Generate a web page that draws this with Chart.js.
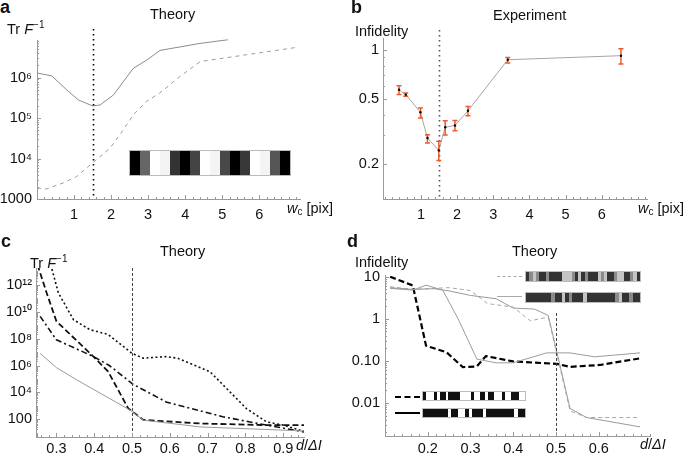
<!DOCTYPE html>
<html>
<head>
<meta charset="utf-8">
<script src="https://cdn.jsdelivr.net/npm/chart.js@4.4.1/dist/chart.umd.min.js"></script>
<style>
  body { margin: 0; width: 685px; height: 455px; position: relative; overflow: hidden; background: #fff;
         font-family: "Liberation Sans", Arial, sans-serif; color: #111; }
  canvas { position: absolute; }
  .t { position: absolute; font-size: 14.5px; line-height: 1; white-space: nowrap; }
  .lt { position: absolute; font-size: 18px; font-weight: bold; line-height: 1; }
  .t sup { font-size: 10px; vertical-align: 6px; line-height: 0; }
  .t sub { font-size: 10px; vertical-align: -2px; line-height: 0; }
  .bar { position: absolute; display: flex; box-sizing: border-box; border: 1px solid #bbb; }
  .bar div { flex: 1; }
  .leg { position: absolute; width: 25px; height: 0; }
</style>
</head>
<body>
<canvas id="ca" width="340" height="205" style="left:0;top:20px"></canvas>
<canvas id="cb" width="345" height="205" style="left:340px;top:20px"></canvas>
<canvas id="cc" width="340" height="205" style="left:0;top:250px"></canvas>
<canvas id="cd" width="345" height="205" style="left:340px;top:250px"></canvas>

<div class="lt" style="left:0;top:-2px">a</div>
<div class="t" style="left:150px;top:7px">Theory</div>
<div class="t" style="left:7px;top:22px">Tr <i>F</i><sup>−1</sup></div>
<div class="t" style="left:287px;top:201px"><i>w</i><sub>c</sub> [pix]</div>

<div class="lt" style="left:351px;top:-2px">b</div>
<div class="t" style="left:493px;top:8px">Experiment</div>
<div class="t" style="left:355px;top:24px">Infidelity</div>
<div class="t" style="left:638px;top:201px"><i>w</i><sub>c</sub> [pix]</div>

<div class="lt" style="left:1px;top:232px">c</div>
<div class="t" style="left:160px;top:244px">Theory</div>
<div class="t" style="left:30px;top:256px">Tr <i>F</i><sup>−1</sup></div>
<div class="t" style="left:296px;top:438px"><i>d</i>/<i>ΔI</i></div>

<div class="lt" style="left:347px;top:232px">d</div>
<div class="t" style="left:512px;top:244px">Theory</div>
<div class="t" style="left:355px;top:255px">Infidelity</div>
<div class="t" style="left:640px;top:437px"><i>d</i>/<i>ΔI</i></div>

<div id="deco"></div>

<script>
// ---- panel a : Tr F^-1 vs w_c (theory)
const aSolidX = [0.0, 0.4, 0.8, 1.12, 1.5, 1.7, 2.06, 2.6, 2.96, 3.32, 4.4, 5.15];
const aSolidY = [1.3e6, 1.1e6, 5e5, 2.8e5, 2.0e5, 2.1e5, 3.7e5, 1.7e6, 2.7e6, 4.7e6, 7.0e6, 8.6e6];
const aDashX = [0.0, 0.26, 0.71, 1.07, 1.5, 1.97, 2.24, 2.6, 2.96, 3.32, 3.86, 4.41, 5.31, 7.02];
const aDashY = [1860, 1770, 2500, 3600, 7800, 1.8e4, 3.9e4, 1.2e5, 2.6e5, 4.2e5, 1.07e6, 2.5e6, 3.3e6, 5.6e6];
const aTicksX = [1, 2, 3, 4, 5, 6];
const aTicksY = [1000, 1e4, 1e5, 1e6];
const aLabelsY = {1000: '1000', 10000: '10⁴', 100000: '10⁵', 1000000: '10⁶'};

// ---- panel b : measured infidelity vs w_c
const bWc = [0.393, 0.579, 0.986, 1.18, 1.493, 1.67, 1.94, 2.30, 3.40, 6.53];
const bInf = [0.568, 0.530, 0.413, 0.287, 0.241, 0.334, 0.343, 0.422, 0.868, 0.919];
const bLo = [0.532, 0.518, 0.381, 0.268, 0.209, 0.300, 0.318, 0.394, 0.829, 0.817];
const bHi = [0.601, 0.542, 0.439, 0.301, 0.274, 0.367, 0.368, 0.449, 0.897, 1.014];
const bTicksY = [0.2, 0.5, 1];

// ---- panel c : Tr F^-1 vs d/ΔI (theory)
const cSolidX = [0.257, 0.30, 0.354, 0.495, 0.53, 0.68, 0.955];
const cSolidY = [7.9e6, 7e5, 8.5e4, 490, 89, 28, 14];
const cDashX = [0.25, 0.274, 0.30, 0.398, 0.437, 0.49, 0.53, 0.68, 0.856, 0.955];
const cDashY = [3e13, 2.5e11, 1.9e9, 4.6e6, 3.5e5, 660, 93, 50, 38, 38];
const cDashDotX = [0.257, 0.30, 0.398, 0.44, 0.503, 0.59, 0.74, 0.856, 0.955];
const cDashDotY = [4.4e9, 8e7, 4.6e6, 1e6, 4e4, 2e3, 160, 38, 12];
const cDotX = [0.285, 0.305, 0.345, 0.389, 0.437, 0.50, 0.53, 0.59, 0.62, 0.706, 0.724, 0.803, 0.856, 0.90, 0.955];
const cDotY = [3e13, 2.5e11, 2.5e9, 4.5e8, 2e8, 8e6, 3.5e6, 4.6e6, 3.5e6, 3.5e5, 1.1e5, 630, 66, 38, 13];
const cTicksX = [0.3, 0.4, 0.5, 0.6, 0.7, 0.8, 0.9];
const cTicksY = [100, 1e4, 1e6, 1e8, 1e10, 1e12];
const cLabelsY = {100: '100', 10000: '10⁴', 1000000: '10⁶', 100000000: '10⁸', 10000000000: '10¹⁰', 1000000000000: '10¹²'};

// ---- panel d : infidelity vs d/ΔI (theory)
const dBlackX = [0.112, 0.165, 0.196, 0.244, 0.282, 0.315, 0.336, 0.40, 0.502, 0.533, 0.603, 0.697];
const dBlackY = [10, 6.2, 0.23, 0.16, 0.071, 0.074, 0.13, 0.097, 0.085, 0.072, 0.08, 0.115];
const dGrayAX = [0.112, 0.165, 0.215, 0.25, 0.30, 0.36, 0.40, 0.45, 0.482, 0.533, 0.572, 0.697];
const dGrayAY = [5.5, 5.0, 5.2, 4.6, 3.6, 3.0, 1.8, 1.7, 1.2, 0.0074, 0.0045, 0.0027];
const dGrayBX = [0.112, 0.165, 0.215, 0.25, 0.30, 0.34, 0.40, 0.44, 0.482, 0.533, 0.572, 0.697];
const dGrayBY = [5.8, 5.0, 5.3, 5.5, 4.7, 2.3, 1.9, 0.9, 1.1, 0.0065, 0.0045, 0.0045];
const dGrayCX = [0.112, 0.165, 0.196, 0.235, 0.271, 0.315, 0.36, 0.40, 0.478, 0.533, 0.59, 0.697];
const dGrayCY = [5.3, 4.8, 6.3, 4.8, 1.0, 0.11, 0.09, 0.09, 0.155, 0.155, 0.125, 0.155];
const dTicksX = [0.2, 0.3, 0.4, 0.5, 0.6];
const dTicksY = [0.01, 0.1, 1, 10];
const dLabelsY = {0.01: '0.01', 0.1: '0.10', 1: '1', 10: '10'};

const pts = (xs, ys) => xs.map((x, i) => ({x, y: ys[i]}));
const FONT = {family: 'Liberation Sans, Arial, sans-serif', size: 14.5};
const AXIS = '#9a9a9a';

function logMinor(lo, hi) {
  const out = [];
  for (let e = Math.floor(Math.log10(lo)); e <= Math.ceil(Math.log10(hi)); e++)
    for (let m = 1; m < 10; m++) { const v = m * Math.pow(10, e); if (v >= lo && v <= hi) out.push(v); }
  return out;
}
function linMinor(lo, hi, step) {
  const out = [];
  for (let v = Math.ceil(lo / step) * step; v <= hi + 1e-9; v += step) out.push(+v.toFixed(4));
  return out;
}

// inward tick marks like the original
const inTicks = {
  id: 'inTicks',
  afterDraw(chart, args, o) {
    const {ctx, chartArea: a} = chart, xs = chart.scales.x, ys = chart.scales.y;
    ctx.save();
    ctx.strokeStyle = AXIS; ctx.lineWidth = 1;
    ctx.beginPath();
    const tx = (v, len) => { if (v < xs.min || v > xs.max) return; const p = Math.round(xs.getPixelForValue(v)) + 0.5; ctx.moveTo(p, a.bottom); ctx.lineTo(p, a.bottom - len); };
    const ty = (v, len) => { if (v < ys.min || v > ys.max) return; const p = Math.round(ys.getPixelForValue(v)) + 0.5; ctx.moveTo(a.left, p); ctx.lineTo(a.left + len, p); };
    (o.xMinor || []).forEach(v => tx(v, 2));
    (o.xMajor || []).forEach(v => tx(v, 4));
    (o.yMinor || []).forEach(v => ty(v, 2));
    (o.yMajor || []).forEach(v => ty(v, 4));
    ctx.stroke();
    ctx.restore();
  }
};

const refLine = {
  id: 'refLine',
  afterDatasetsDraw(chart, args, o) {
    if (o.x === undefined) return;
    const {ctx, chartArea: a} = chart;
    const p = Math.round(chart.scales.x.getPixelForValue(o.x)) + 0.5;
    ctx.save();
    ctx.strokeStyle = o.color; ctx.lineWidth = o.width; ctx.setLineDash(o.dash);
    ctx.beginPath(); ctx.moveTo(p, o.top); ctx.lineTo(p, a.bottom); ctx.stroke();
    ctx.restore();
  }
};

const errBars = {
  id: 'errBars',
  afterDatasetsDraw(chart, args, o) {
    if (!o.x) return;
    const {ctx} = chart, xs = chart.scales.x, ys = chart.scales.y;
    ctx.save();
    ctx.strokeStyle = o.color; ctx.lineWidth = 1.5;
    o.x.forEach((x, i) => {
      const px = xs.getPixelForValue(x), y1 = ys.getPixelForValue(o.lo[i]), y2 = ys.getPixelForValue(o.hi[i]);
      ctx.beginPath();
      ctx.moveTo(px, y1); ctx.lineTo(px, y2);
      ctx.moveTo(px - 2.5, y1); ctx.lineTo(px + 2.5, y1);
      ctx.moveTo(px - 2.5, y2); ctx.lineTo(px + 2.5, y2);
      ctx.stroke();
    });
    // centre dots on top of the bars
    ctx.fillStyle = '#000';
    o.x.forEach((x, i) => {
      ctx.beginPath(); ctx.arc(xs.getPixelForValue(x), ys.getPixelForValue(o.y[i]), 1.2, 0, Math.PI * 2); ctx.fill();
    });
    ctx.restore();
  }
};

function makeChart(id, cfg) {
  const xScale = Object.assign({
    type: 'linear', grid: {display: false, drawTicks: false},
    border: {color: AXIS, width: 1},
    ticks: {font: FONT, color: '#111', padding: cfg.xPad, maxRotation: 0, autoSkip: false,
            callback: cfg.xFmt},
    afterBuildTicks: s => { s.ticks = cfg.xTicks.map(v => ({value: v})); },
    afterFit: s => { s.height = cfg.xH; }
  }, cfg.x);
  const yScale = Object.assign({
    type: 'logarithmic', grid: {display: false, drawTicks: false},
    border: {color: AXIS, width: 1},
    ticks: {font: FONT, color: '#111', padding: cfg.yPad, autoSkip: false,
            callback: v => cfg.yLabels[v] !== undefined ? cfg.yLabels[v] : ''},
    afterBuildTicks: s => { s.ticks = cfg.yTicks.map(v => ({value: v})); },
    afterFit: s => { s.width = cfg.yW; }
  }, cfg.y);
  return new Chart(document.getElementById(id), {
    type: 'line',
    data: {datasets: cfg.datasets},
    options: {
      responsive: false, animation: false, devicePixelRatio: 1,
      layout: {padding: cfg.pad},
      elements: {point: {radius: 0}, line: {tension: 0}},
      scales: {x: xScale, y: yScale},
      plugins: Object.assign({legend: {display: false}, tooltip: {enabled: false}}, cfg.plugins)
    },
    plugins: [inTicks, refLine, errBars]
  });
}

const line = (data, color, width, dash, extra) => Object.assign({data, borderColor: color, borderWidth: width, borderDash: dash || [], fill: false}, extra || {});

// a
makeChart('ca', {
  pad: {left: 0, top: 20, right: 40, bottom: 0}, yW: 37, xH: 26, xPad: 7, yPad: 5,
  x: {min: 0, max: 7.1}, y: {min: 1000, max: 8.5e6},
  xTicks: aTicksX, xFmt: v => String(v), yTicks: aTicksY, yLabels: aLabelsY,
  datasets: [
    line(pts(aSolidX, aSolidY), '#8c8c8c', 1, [], {clip: false}),
    line(pts(aDashX, aDashY), '#9c9c9c', 1, [4, 4])
  ],
  plugins: {
    inTicks: {xMajor: aTicksX, xMinor: linMinor(0, 7, 0.2), yMajor: aTicksY, yMinor: logMinor(1000, 8.5e6)},
    refLine: {x: 1.5, top: 9, color: '#000', width: 1.6, dash: [1.5, 3.5]}
  }
});

// b
makeChart('cb', {
  pad: {left: 0, top: 18, right: 38, bottom: 0}, yW: 43, xH: 26, xPad: 7, yPad: 4,
  x: {min: -0.05, max: 7.25}, y: {min: 0.1213, max: 1.18},
  xTicks: aTicksX, xFmt: v => String(v), yTicks: bTicksY, yLabels: {0.2: '0.2', 0.5: '0.5', 1: '1'},
  datasets: [
    line(pts(bWc, bInf), '#a5a5a5', 1, [])
  ],
  plugins: {
    inTicks: {xMajor: aTicksX, xMinor: linMinor(0, 7.2, 0.2), yMajor: bTicksY, yMinor: logMinor(0.13, 1.18)},
    refLine: {x: 1.5, top: 10, color: '#555', width: 1.6, dash: [1.5, 3.5]},
    errBars: {x: bWc, y: bInf, lo: bLo, hi: bHi, color: '#ee5a2a'}
  }
});

// c
makeChart('cc', {
  pad: {left: 0, top: 18, right: 36, bottom: 0}, yW: 36, xH: 18, xPad: 3, yPad: 4,
  x: {min: 0.246, max: 0.955}, y: {min: 5, max: 1.7e13},
  xTicks: cTicksX, xFmt: v => v.toFixed(1), yTicks: cTicksY, yLabels: cLabelsY,
  datasets: [
    line(pts(cSolidX, cSolidY), '#9a9a9a', 1, []),
    line(pts(cDashX, cDashY), '#111', 1.8, [6, 3]),
    line(pts(cDashDotX, cDashDotY), '#111', 1.6, [6, 3, 2, 3]),
    line(pts(cDotX, cDotY), '#111', 1.6, [2, 2.5])
  ],
  plugins: {
    inTicks: {xMajor: cTicksX, xMinor: linMinor(0.25, 0.95, 0.02), yMajor: cTicksY, yMinor: logMinor(5, 1.7e13)},
    refLine: {x: 0.5, top: 18, color: '#444', width: 1, dash: [3, 2]}
  }
});

// d
makeChart('cd', {
  pad: {left: 0, top: 25, right: 35, bottom: 0}, yW: 45, xH: 19, xPad: 4, yPad: 5,
  x: {min: 0.1, max: 0.72}, y: {min: 0.00164, max: 11},
  xTicks: dTicksX, xFmt: v => v.toFixed(1), yTicks: dTicksY, yLabels: dLabelsY,
  datasets: [
    line(pts(dGrayAX, dGrayAY), '#9a9a9a', 1, []),
    line(pts(dGrayBX, dGrayBY), '#a8a8a8', 1, [4, 3]),
    line(pts(dGrayCX, dGrayCY), '#9a9a9a', 1, []),
    line(pts(dBlackX, dBlackY), '#000', 2.2, [6, 3])
  ],
  plugins: {
    inTicks: {xMajor: dTicksX, xMinor: linMinor(0.1, 0.72, 0.02), yMajor: dTicksY, yMinor: logMinor(0.0017, 11)},
    refLine: {x: 0.5, top: 63, color: '#444', width: 1, dash: [3, 2]}
  }
});

// ---- decorative mask insets and legend keys
const deco = document.getElementById('deco');
function barcode(left, top, w, h, shades) {
  const b = document.createElement('div');
  b.className = 'bar';
  Object.assign(b.style, {left: left + 'px', top: top + 'px', width: w + 'px', height: h + 'px'});
  shades.forEach(c => { const s = document.createElement('div'); s.style.background = c; b.appendChild(s); });
  deco.appendChild(b);
}
function fromCode(str, map) { return str.split('').map(ch => map[ch]); }
function key(left, top, css) {
  const k = document.createElement('div');
  k.className = 'leg';
  k.style.left = left + 'px'; k.style.top = top + 'px'; k.style.borderTop = css;
  deco.appendChild(k);
}

barcode(129, 150, 162, 26, ['#000', '#666', '#fff', '#f4f4f4', '#333', '#000', '#444', '#fff',
                            '#f4f4f4', '#484848', '#000', '#383838', '#fff', '#f4f4f4', '#555', '#000']);

const grayMap = {k: '#333', g: '#8a8a8a', l: '#c4c4c4'};
const bwMap = {k: '#111', w: '#fff', g: '#999'};
barcode(525, 271, 116, 11, fromCode('kglgkkgkkkklllgklkgkkklglkkgllkkglk', grayMap));
barcode(525, 292, 116, 11, fromCode('kkkkkkkgkklkgkkklkkkkkkkkglkkgkk', grayMap));
barcode(422, 391, 104, 10, fromCode('kwwwkwkkwkkkkwwwwkwwkkwkkwwwkwwkkkww', bwMap));
barcode(422, 408, 104, 10, fromCode('kkkkkkkwkkwwkwkkkwkkkkkkkkwkk', bwMap));

key(497, 276, '1px dashed #aaa');
key(497, 296, '1px solid #aaa');
key(395, 396, '2px dashed #000');
key(395, 412, '2px solid #000');
</script>
</body>
</html>
